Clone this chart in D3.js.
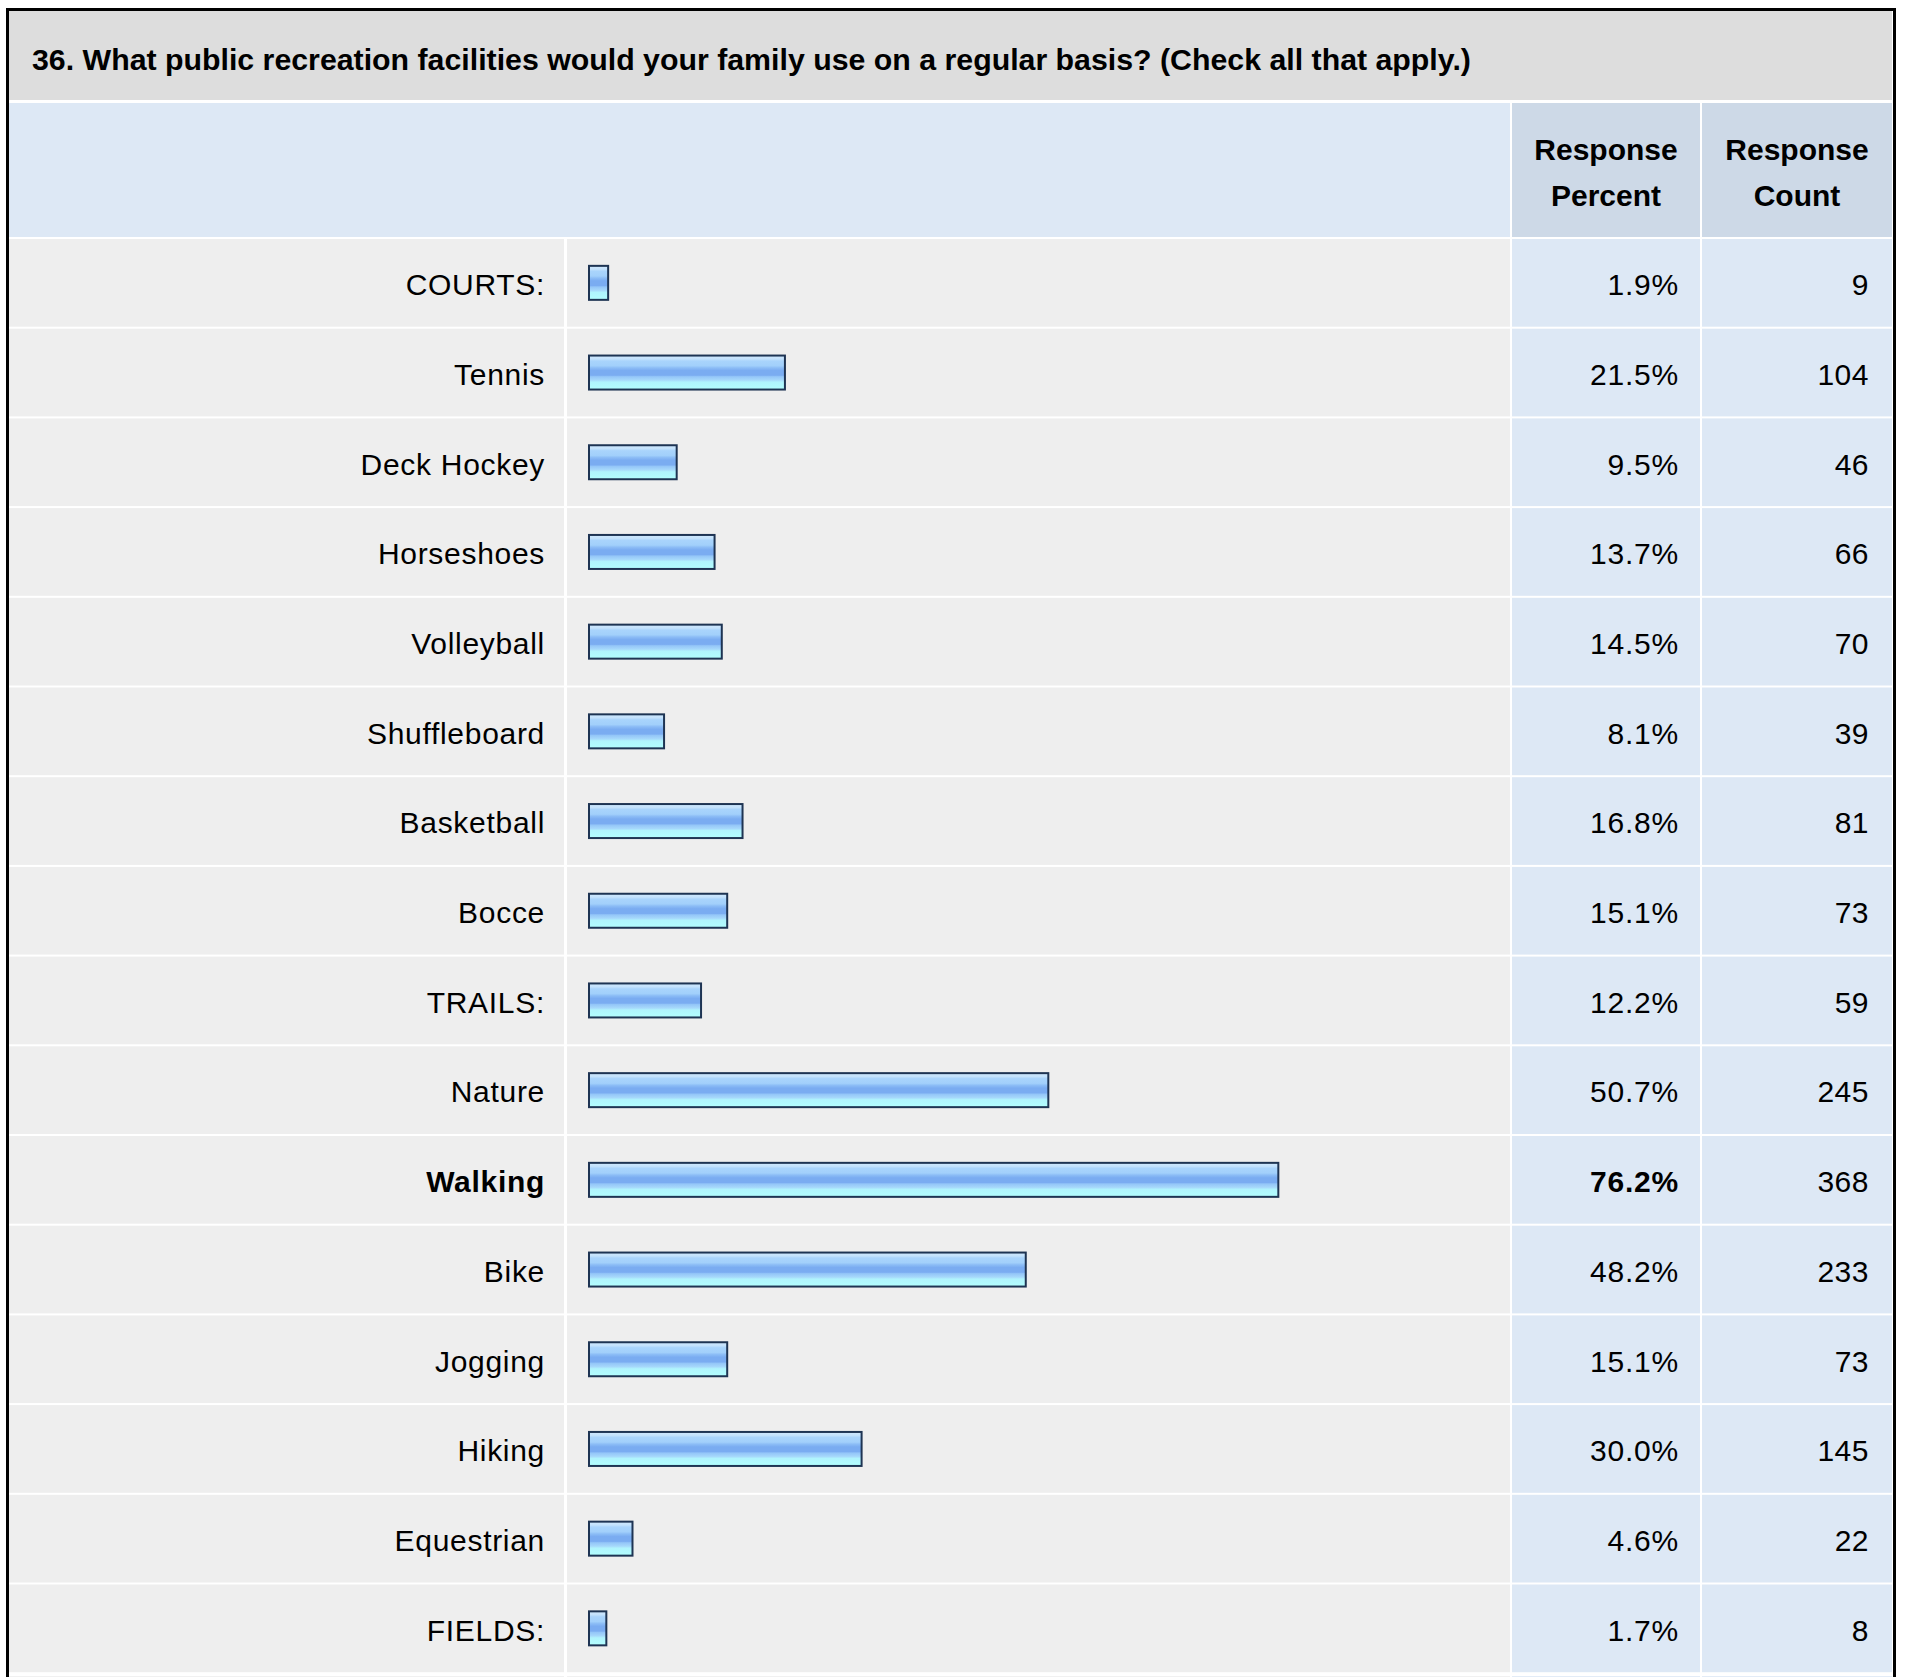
<!DOCTYPE html>
<html>
<head>
<meta charset="utf-8">
<script src="https://cdn.jsdelivr.net/npm/d3@7/dist/d3.min.js"></script>
<style>
  html, body { margin: 0; padding: 0; background: #ffffff; }
  svg { display: block; }
  text { font-family: "Liberation Sans", Arial, Helvetica, sans-serif; fill: #000; }
</style>
</head>
<body>
<script>
const title = "36. What public recreation facilities would your family use on a regular basis? (Check all that apply.)";
const headerPercent = ["Response", "Percent"];
const headerCount = ["Response", "Count"];
const categories = ["COURTS:", "Tennis", "Deck Hockey", "Horseshoes", "Volleyball", "Shuffleboard", "Basketball", "Bocce", "TRAILS:", "Nature", "Walking", "Bike", "Jogging", "Hiking", "Equestrian", "FIELDS:"];
const percents = [1.9, 21.5, 9.5, 13.7, 14.5, 8.1, 16.8, 15.1, 12.2, 50.7, 76.2, 48.2, 15.1, 30.0, 4.6, 1.7];
const counts = [9, 104, 46, 66, 70, 39, 81, 73, 59, 245, 368, 233, 73, 145, 22, 8];

const W = 1907, H = 1677;
const svg = d3.select("body").append("svg").attr("width", W).attr("height", H);

// gradient for bars
const defs = svg.append("defs");
const grad = defs.append("linearGradient").attr("id", "barGrad")
  .attr("x1", 0).attr("y1", 0).attr("x2", 0).attr("y2", 1);
[[0, "#cfe8fd"], [0.1, "#c4e2fc"], [0.16, "#a9d4fc"], [0.3, "#a2d0fb"], [0.36, "#8cbdf6"], [0.44, "#7aacf1"],
 [0.58, "#7aacf1"], [0.62, "#94c6f8"], [0.72, "#a6d8fb"], [0.78, "#b0f4fd"], [1, "#b2fefe"]]
  .forEach(([o, c]) => grad.append("stop").attr("offset", o).attr("stop-color", c));

const left = 9, right = 1892;
const labelCellR = 564, barCellL = 567, pctL = 1512, pctR = 1700, cntL = 1702;
const headerTop = 103, headerBot = 237;

// Title band
svg.append("rect").attr("x", left).attr("y", 10).attr("width", right - left).attr("height", 90).attr("fill", "#dddddd");
svg.append("text").attr("x", 32).attr("y", 70)
  .attr("font-size", 30.3).attr("font-weight", "bold").text(title);

// Header band
svg.append("rect").attr("x", left).attr("y", headerTop).attr("width", pctL - 2 - left).attr("height", headerBot - headerTop).attr("fill", "#dde8f5");
svg.append("rect").attr("x", pctL).attr("y", headerTop).attr("width", pctR - pctL).attr("height", headerBot - headerTop).attr("fill", "#cdd9e7");
svg.append("rect").attr("x", cntL).attr("y", headerTop).attr("width", right - cntL).attr("height", headerBot - headerTop).attr("fill", "#cdd9e7");

const hdr = svg.append("g").attr("font-size", 30).attr("font-weight", "bold").attr("text-anchor", "middle");
[[headerPercent, (pctL + pctR) / 2], [headerCount, (cntL + right) / 2]].forEach(([lines, cx]) => {
  lines.forEach((t, i) => {
    hdr.append("text").attr("x", cx).attr("y", 160 + i * 46).text(t);
  });
});

// Rows
const y = d3.scaleBand().domain(categories).range([headerBot + 2, headerBot + 2 + 16 * 89.7]).paddingInner(0);
const x = d3.scaleLinear().domain([0, 100]).range([0, 902]);
const fmt = d3.format(".1f");
const maxP = d3.max(percents);
const rowsData = categories.map((c, i) => ({ c, p: percents[i], n: counts[i] }));

const rows = svg.append("g").selectAll("g").data(rowsData).join("g")
  .attr("transform", d => `translate(0,${y(d.c)})`);
const rh = y.bandwidth() - 2;

rows.append("rect").attr("x", left).attr("width", labelCellR - left).attr("height", rh).attr("fill", "#eeeeee");
rows.append("rect").attr("x", barCellL).attr("width", pctL - 2 - barCellL).attr("height", rh).attr("fill", "#eeeeee");
rows.append("rect").attr("x", pctL).attr("width", pctR - pctL).attr("height", rh).attr("fill", "#dde8f5");
rows.append("rect").attr("x", cntL).attr("width", right - cntL).attr("height", rh).attr("fill", "#dde8f5");

rows.append("text").attr("x", 545).attr("y", rh / 2 + 1.5).attr("dy", "0.36em")
  .attr("text-anchor", "end").attr("font-size", 30).attr("letter-spacing", 0.7)
  .attr("font-weight", d => d.p === maxP ? "bold" : "normal").text(d => d.c);

rows.append("rect").attr("x", 589).attr("y", rh / 2 - 17)
  .attr("width", d => x(d.p) + 2).attr("height", 34)
  .attr("fill", "url(#barGrad)").attr("stroke", "#1e3453").attr("stroke-width", 2);

rows.append("text").attr("x", 1679).attr("y", rh / 2 + 1.5).attr("dy", "0.36em")
  .attr("text-anchor", "end").attr("font-size", 30).attr("letter-spacing", 0.8)
  .attr("font-weight", d => d.p === maxP ? "bold" : "normal").text(d => fmt(d.p) + "%");

rows.append("text").attr("x", 1869).attr("y", rh / 2 + 1.5).attr("dy", "0.36em")
  .attr("text-anchor", "end").attr("font-size", 30).attr("letter-spacing", 0.5).text(d => d.n);

// continuation of table below the last row
const contTop = headerBot + 2 + 16 * 89.7 + 2;
svg.append("rect").attr("x", left).attr("y", contTop).attr("width", labelCellR - left).attr("height", 40).attr("fill", "#eeeeee");
svg.append("rect").attr("x", barCellL).attr("y", contTop).attr("width", pctL - 2 - barCellL).attr("height", 40).attr("fill", "#eeeeee");
svg.append("rect").attr("x", pctL).attr("y", contTop).attr("width", pctR - pctL).attr("height", 40).attr("fill", "#dde8f5");
svg.append("rect").attr("x", cntL).attr("y", contTop).attr("width", right - cntL).attr("height", 40).attr("fill", "#dde8f5");

// outer border
svg.append("path").attr("d", `M7.5,${H + 5} V9.5 H1894.5 V${H + 5}`)
  .attr("fill", "none").attr("stroke", "#000").attr("stroke-width", 3);
</script>
</body>
</html>
